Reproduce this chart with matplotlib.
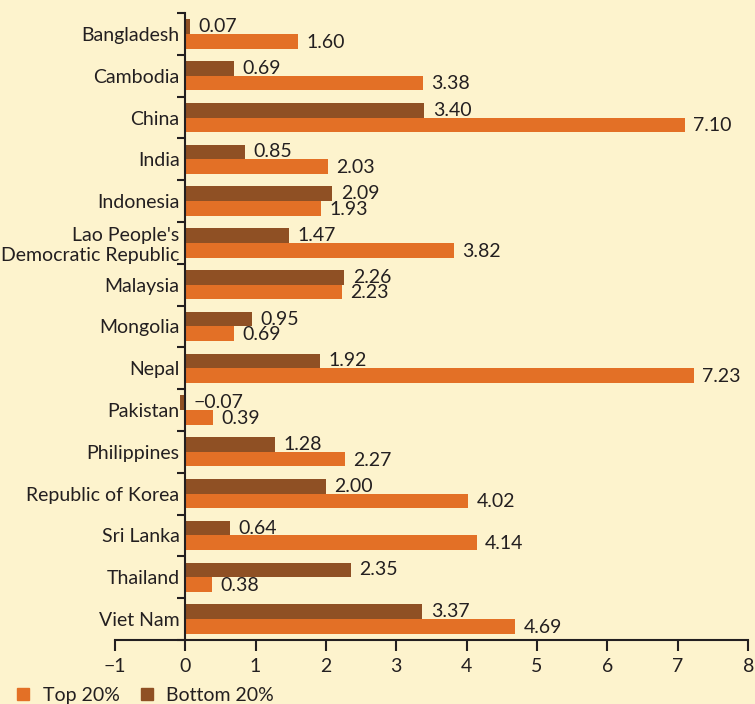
import numpy as np
import matplotlib
matplotlib.use('Agg')
import matplotlib.pyplot as plt
from matplotlib.lines import Line2D

countries = ['Bangladesh', 'Cambodia', 'China', 'India', 'Indonesia',
             "Lao People's\nDemocratic Republic", 'Malaysia', 'Mongolia', 'Nepal',
             'Pakistan', 'Philippines', 'Republic of Korea', 'Sri Lanka',
             'Thailand', 'Viet Nam']
bottom20 = [0.07, 0.69, 3.40, 0.85, 2.09, 1.47, 2.26, 0.95, 1.92, -0.07,
            1.28, 2.00, 0.64, 2.35, 3.37]
top20 = [1.60, 3.38, 7.10, 2.03, 1.93, 3.82, 2.23, 0.69, 7.23, 0.39,
         2.27, 4.02, 4.14, 0.38, 4.69]

bg = '#fdf3cd'
c_top = '#e37026'
c_bot = '#8f5024'
txt = '#231f20'
fs = 14

plt.rcParams['font.family'] = ['Lato', 'DejaVu Sans']

fig = plt.figure(figsize=(7.55, 7.04), dpi=100, facecolor=bg)
ax = fig.add_axes([0.152, 0.091, 0.839, 0.8905], facecolor=bg)

y = np.arange(len(countries))
h = 0.35
ax.barh(y - h / 2, bottom20, height=h, color=c_bot, zorder=2)
ax.barh(y + h / 2, top20, height=h, color=c_top, zorder=2)

for i in range(len(countries)):
    b = bottom20[i]
    t = top20[i]
    ax.text(max(b, 0) + 0.12, y[i] - h / 2, f'{b:.2f}'.replace('-', '\u2212'),
            va='center', ha='left', fontsize=fs, color=txt)
    ax.text(max(t, 0) + 0.12, y[i] + h / 2 + 0.02, f'{t:.2f}',
            va='center', ha='left', fontsize=fs, color=txt)

ax.set_xlim(-1, 8)
ax.set_ylim(len(countries) - 0.5, -0.5)
ax.set_xticks(range(-1, 9))
ax.set_xticklabels(['\u22121'] + [str(i) for i in range(0, 9)])

ax.set_yticks(y)
ax.set_yticks(np.arange(-0.5, len(countries), 1), minor=True)
ax.set_yticklabels(countries)
ax.tick_params(axis='y', which='major', length=0, pad=4, labelsize=fs,
               labelcolor=txt)
ax.tick_params(axis='y', which='minor', length=6, width=1.5, color=txt, direction='out')
ax.tick_params(axis='x', length=8, width=1.5, color=txt, labelsize=fs,
               labelcolor=txt, pad=5)
for lab in ax.get_yticklabels():
    lab.set_linespacing(0.95)

ax.spines['top'].set_visible(False)
ax.spines['right'].set_visible(False)
ax.spines['left'].set_position(('data', 0))
for s in ['left', 'bottom']:
    ax.spines[s].set_color(txt)
    ax.spines[s].set_linewidth(1.5)

handles = [Line2D([], [], marker='s', linestyle='', markersize=9, color=c_top),
           Line2D([], [], marker='s', linestyle='', markersize=9, color=c_bot)]
fig.legend(handles, ['Top 20%', 'Bottom 20%'], loc='lower left',
           bbox_to_anchor=(-0.005, -0.025), ncol=2, frameon=False, fontsize=fs,
           handletextpad=0.5, columnspacing=0.9, handlelength=1.0,
           labelcolor=txt)

fig.savefig('out.png', facecolor=bg)
